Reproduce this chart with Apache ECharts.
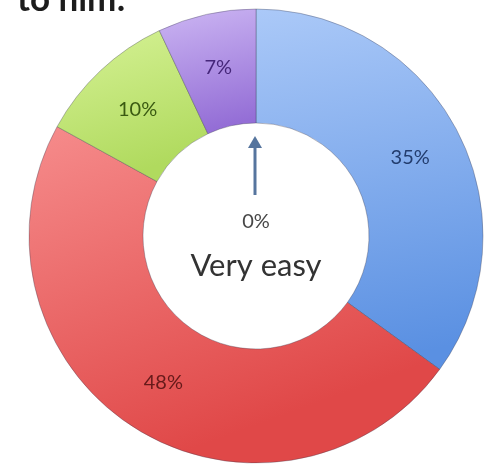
<!DOCTYPE html>
<html>
<head>
<meta charset="utf-8">
<script src="https://cdn.jsdelivr.net/npm/echarts@6/dist/echarts.min.js"></script>
<style>
  html, body { margin: 0; padding: 0; background: #ffffff; }
  #chart { width: 492px; height: 467px; }
</style>
</head>
<body>
<div id="chart"></div>
<script>
// Answer categories, clockwise from the top of the ring
const categories = ['Very easy', 'Easy', 'Neutral', 'Difficult', 'Very difficult'];
// Share of answers, in percent
const shares = [0, 35, 48, 10, 7];

// Slice fills (light edge -> dark edge) and label colours
const fillLight = ['#ffffff', '#abc9f8', '#f68c8c', '#d6f296', '#ccb6f3'];
const fillDark  = ['#ffffff', '#5a90e2', '#e04848', '#b0da5e', '#946ed6'];
const labelInk  = ['#444444', '#233d6e', '#661a1a', '#3a5a12', '#46277a'];

const chart = echarts.init(document.getElementById('chart'), null, { renderer: 'canvas' });

const data = categories.map((name, i) => {
  const item = {
    name: name,
    value: shares[i],
    itemStyle: {
      color: new echarts.graphic.LinearGradient(0, 0, 0.3, 1, [
        { offset: 0, color: fillLight[i] },
        { offset: 1, color: fillDark[i] }
      ])
    },
    label: { color: labelInk[i] }
  };
  if (shares[i] === 0) {
    // the empty slice is described in the hole of the ring
    item.label = {
      position: 'center',
      color: labelInk[i],
      padding: [22, 0, 0, 0],
      formatter: p => '{a|' + p.value + '%}\n{gap|}\n{b|' + p.name + '}',
      rich: {
        a: { fontSize: 20, lineHeight: 22, color: '#474747', fontFamily: 'Lato' },
        gap: { lineHeight: 16 },
        b: { fontSize: 31, lineHeight: 34, color: '#333333', fontFamily: 'Lato' }
      }
    };
  }
  return item;
});

chart.setOption({
  animation: false,
  backgroundColor: '#ffffff',
  title: {
    text: 'to him:',
    left: 12,
    top: -23,
    textStyle: { fontFamily: 'Lato', fontSize: 35, fontWeight: 'bold', color: '#1c1c1c' }
  },
  series: [{
    type: 'pie',
    center: [256, 236],
    radius: [113, 227],
    startAngle: 90,
    clockwise: true,
    avoidLabelOverlap: false,
    label: {
      show: true,
      position: 'inside',
      formatter: '{c}%',
      fontFamily: 'Lato',
      fontSize: 20,
      fontWeight: 'normal'
    },
    labelLine: { show: false },
    itemStyle: {
      borderColor: 'rgba(60,60,80,0.35)',
      borderWidth: 1
    },
    emphasis: { disabled: true },
    data: data
  }],
  graphic: [{
    type: 'group',
    left: 248,
    top: 136,
    children: [
      { type: 'line', shape: { x1: 7, y1: 8, x2: 7, y2: 59 },
        style: { stroke: '#56759e', lineWidth: 3 } },
      { type: 'polygon', shape: { points: [[0, 12], [7, 0], [14, 12]] },
        style: { fill: '#56759e' } }
    ]
  }]
});
</script>
</body>
</html>
